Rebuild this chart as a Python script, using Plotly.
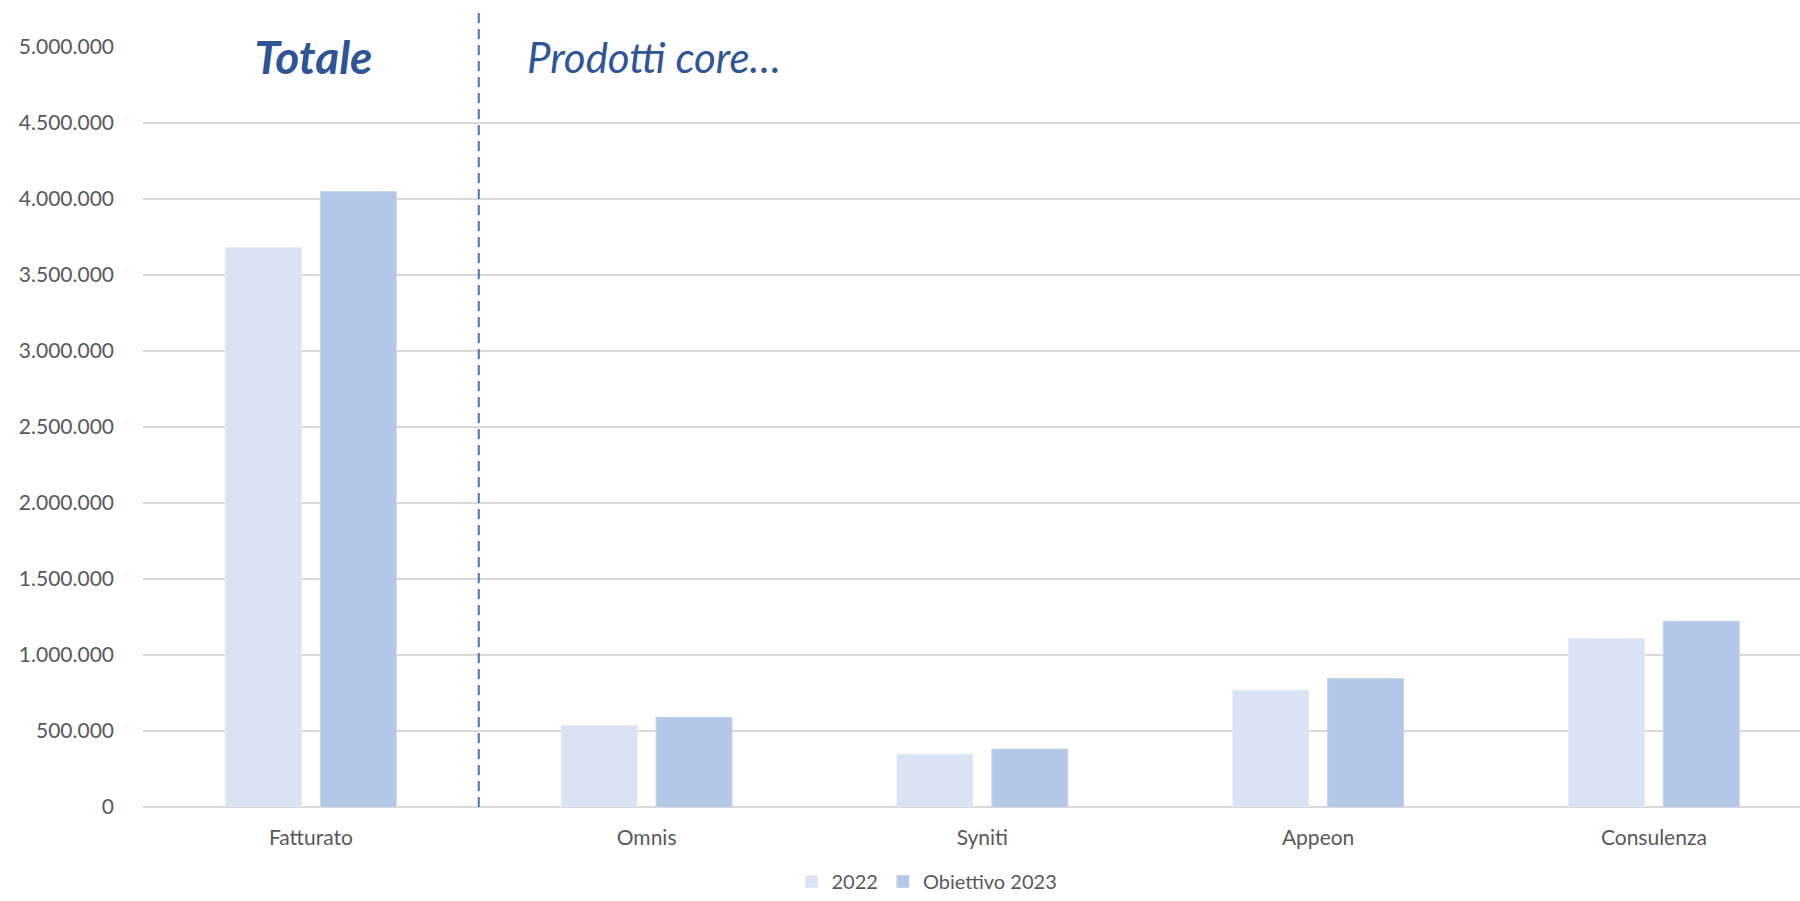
import plotly.graph_objects as go

categories = ["Fatturato", "Omnis", "Syniti", "Appeon", "Consulenza"]
values_2022 = [3680000, 537000, 347000, 768000, 1109000]
values_2023 = [4048000, 590000, 381000, 845000, 1222000]
series_names = ["2022", "Obiettivo 2023"]
tick_values = [0, 500000, 1000000, 1500000, 2000000, 2500000, 3000000, 3500000, 4000000, 4500000, 5000000]

FONT = "Lato"
fig = go.Figure()
fig.add_trace(go.Bar(x=categories, y=values_2022, name=series_names[0],
                     marker=dict(color="#DAE3F3", line=dict(color="#E4EBF7", width=1))))
fig.add_trace(go.Bar(x=categories, y=values_2023, name=series_names[1],
                     marker=dict(color="#B4C7E7", line=dict(color="#C3D2EC", width=1))))

W, H = 1800, 901
L, T, B = 143, 46.7, 94.3
plot_w = W - L

fig.update_layout(
    width=W, height=H,
    margin=dict(l=L, r=0, t=T, b=B, pad=0, autoexpand=False),
    paper_bgcolor="white", plot_bgcolor="white",
    separators=",.",
    barmode="group", bargap=0.435, bargroupgap=0.2,
    font=dict(family=FONT, size=21, color="#595959"),
    showlegend=True,
    legend=dict(orientation="h", xref="container", x=927 / W, xanchor="center",
                yref="container", y=0.0, yanchor="bottom",
                font=dict(family=FONT, size=20, color="#595959"),
                itemclick=False, traceorder="normal"),
    xaxis=dict(range=[-0.5, -0.5 + plot_w / 335.75], showgrid=False, showline=False,
               zeroline=False, ticks="", tickfont=dict(size=21, color="#595959"),
               ticklabelstandoff=16, fixedrange=True, automargin=False),
    yaxis=dict(range=[0, 5000000], tickvals=tick_values, tickformat=",.0f",
               showgrid=True, gridcolor="#D9D9D9", gridwidth=2,
               zeroline=True, zerolinecolor="#D9D9D9", zerolinewidth=2,
               showline=False, ticks="", tickfont=dict(size=21, color="#595959"),
               ticklabelstandoff=28, fixedrange=True, automargin=False),
)

# dashed separator between Totale and the core products
fig.add_shape(type="line", xref="x", yref="paper", x0=0.5, x1=0.5, y0=0, y1=1.046,
              line=dict(color="#4472C4", width=2, dash="10px,6px"), layer="above")

px2paper = lambda px: (px - L) / plot_w
# text boxes with white background (hide the top gridline behind them)
fig.add_annotation(text="<b><i>Totale</i></b>", xref="paper", yref="paper",
                   x=px2paper(189), xanchor="left", y=1 - (56 - 46.7) / 760, yanchor="middle",
                   width=247, height=56, align="center", bgcolor="white", borderpad=0,
                   showarrow=False, font=dict(family=FONT, size=46, color="#2F5597"))
fig.add_annotation(text="<i>Prodotti core…</i>", xref="paper", yref="paper",
                   x=px2paper(507), xanchor="left", y=1 - (57 - 46.7) / 760, yanchor="middle",
                   width=620, height=50, align="left", bgcolor="white", borderpad=19,
                   showarrow=False, font=dict(family=FONT, size=42, color="#2F5597"))

fig.write_html("out.html", config={"displayModeBar": False},
               post_script="document.body.style.margin='0';")
